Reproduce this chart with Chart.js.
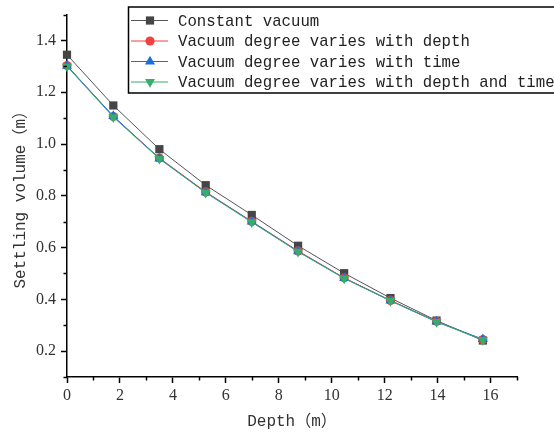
<!DOCTYPE html>
<html>
<head>
<meta charset="utf-8">
<script src="https://cdn.jsdelivr.net/npm/chart.js@4/dist/chart.umd.min.js"></script>
<style>
  html, body { margin: 0; padding: 0; background: #fff; }
  #wrap { width: 554px; height: 434px; }
</style>
</head>
<body>
<div id="wrap"><canvas id="chartCanvas" width="554" height="434"></canvas></div>
<script>
// Derinlik (m) ve oturma hacimleri (m)
const depth = [0, 1.75, 3.49, 5.24, 6.98, 8.73, 10.47, 12.22, 13.96, 15.71];
const constantVacuum = [1.345, 1.149, 0.980, 0.841, 0.726, 0.607, 0.501, 0.405, 0.318, 0.241];
const variesWithDepth = [1.303, 1.106, 0.946, 0.815, 0.701, 0.587, 0.483, 0.396, 0.315, 0.244];
const variesWithTime = [1.302, 1.108, 0.944, 0.813, 0.700, 0.585, 0.482, 0.395, 0.314, 0.246];
const variesWithBoth = [1.300, 1.104, 0.943, 0.812, 0.698, 0.584, 0.481, 0.394, 0.313, 0.243];

const seriesNames = [
    'Constant vacuum',
    'Vacuum degree varies with depth',
    'Vacuum degree varies with time',
    'Vacuum degree varies with depth and time'
];

const xTicks = [0, 2, 4, 6, 8, 10, 12, 14, 16];
const xMinorTicks = [1, 3, 5, 7, 9, 11, 13, 15, 17];
const yTicks = [0.2, 0.4, 0.6, 0.8, 1.0, 1.2, 1.4];
const yMinorTicks = [0.1, 0.3, 0.5, 0.7, 0.9, 1.1, 1.3, 1.5];

const tickFont = { family: "'Liberation Serif', serif", size: 16 };
const titleFont = { family: "'Liberation Mono', 'Noto Sans CJK SC', monospace", size: 16 };

function toPoints(values) {
    return values.map((v, i) => ({ x: depth[i], y: v }));
}

function makeSet(label, values, color, lineColor, style, radius, rotation, order) {
    return {
        label: label,
        data: toPoints(values),
        borderColor: lineColor,
        backgroundColor: color,
        pointBackgroundColor: color,
        pointBorderColor: color,
        pointBorderWidth: 0,
        pointStyle: style,
        pointRadius: radius,
        pointRotation: rotation,
        borderWidth: 1,
        tension: 0,
        clip: false,
        order: order
    };
}

// Küçük tik çizgileri ve kutulu gösterge
const extrasPlugin = {
    id: 'extras',
    afterDraw(chart) {
        const ctx = chart.ctx;
        const xs = chart.scales.x;
        const ys = chart.scales.y;
        ctx.save();
        ctx.strokeStyle = '#000';
        ctx.lineWidth = 1.5;
        ctx.beginPath();
        xMinorTicks.forEach(v => {
            const px = Math.round(xs.getPixelForValue(v)) + 0.5;
            ctx.moveTo(px, xs.top);
            ctx.lineTo(px, xs.top + 3.5);
        });
        yMinorTicks.forEach(v => {
            const py = Math.round(ys.getPixelForValue(v)) + 0.5;
            ctx.moveTo(ys.right, py);
            ctx.lineTo(ys.right - 3.5, py);
        });
        ctx.stroke();

        // gösterge
        const boxX = 128.5, boxY = 7, boxW = 440, boxH = 86;
        ctx.fillStyle = '#fff';
        ctx.fillRect(boxX, boxY, boxW, boxH);
        ctx.strokeStyle = '#000';
        ctx.lineWidth = 1.5;
        ctx.strokeRect(boxX, boxY, boxW, boxH);
        const rows = [20.5, 41, 61.5, 82];
        ctx.font = "15.7px 'Liberation Mono', monospace";
        ctx.textBaseline = 'middle';
        chart.data.datasets.forEach((ds, i) => {
            const y = rows[i];
            ctx.strokeStyle = ds.borderColor;
            ctx.lineWidth = 1;
            ctx.beginPath();
            ctx.moveTo(131, y);
            ctx.lineTo(168, y);
            ctx.stroke();
            ctx.fillStyle = ds.pointBackgroundColor;
            Chart.helpers.drawPoint(ctx, {
                pointStyle: ds.pointStyle,
                radius: ds.pointRadius,
                rotation: ds.pointRotation,
                borderWidth: 0
            }, 150, y);
            ctx.fillStyle = '#222';
            ctx.fillText(ds.label, 178, y + 1);
        });
        ctx.restore();
    }
};

const ctx = document.getElementById('chartCanvas').getContext('2d');

new Chart(ctx, {
    type: 'line',
    data: {
        datasets: [
            makeSet(seriesNames[0], constantVacuum, '#454545', '#555555', 'rect', 5.8, 0, 3),
            makeSet(seriesNames[1], variesWithDepth, '#f14040', '#f14040', 'circle', 4.6, 0, 2),
            makeSet(seriesNames[2], variesWithTime, '#1a6fdf', '#1a6fdf', 'triangle', 5.8, 0, 1),
            makeSet(seriesNames[3], variesWithBoth, '#37ad6b', '#37ad6b', 'triangle', 5.8, 180, 0)
        ]
    },
    options: {
        responsive: false,
        animation: false,
        layout: { padding: { left: 0, right: 37, top: 12, bottom: 0 } },
        plugins: {
            legend: { display: false },
            tooltip: { enabled: false }
        },
        scales: {
            x: {
                type: 'linear',
                min: 0,
                max: 17,
                afterBuildTicks: scale => { scale.ticks = xTicks.map(v => ({ value: v })); },
                afterFit: scale => { scale.height = 57; },
                grid: { drawOnChartArea: false, tickLength: 6, tickWidth: 1.5, tickColor: '#000' },
                border: { display: true, color: '#000', width: 1.5 },
                ticks: { font: tickFont, color: '#333', padding: 3, maxRotation: 0 },
                title: { display: true, text: 'Depth（m）', font: titleFont, color: '#333', padding: { top: 0, bottom: 3 } }
            },
            y: {
                type: 'linear',
                min: 0.1,
                max: 1.5,
                afterBuildTicks: scale => { scale.ticks = yTicks.map(v => ({ value: v })); },
                afterFit: scale => { scale.width = 67; },
                grid: { drawOnChartArea: false, tickLength: 6, tickWidth: 1.5, tickColor: '#000' },
                border: { display: true, color: '#000', width: 1.5 },
                ticks: { font: tickFont, color: '#333', padding: 5, callback: v => v.toFixed(1) },
                title: { display: true, text: 'Settling volume（m）', font: titleFont, color: '#333', padding: { top: 11, bottom: 0 } }
            }
        }
    },
    plugins: [extrasPlugin]
});
</script>
</body>
</html>
